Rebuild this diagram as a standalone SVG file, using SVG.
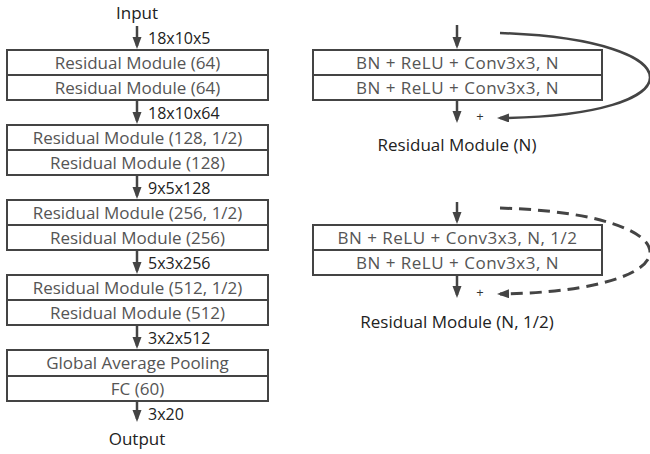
<svg xmlns="http://www.w3.org/2000/svg" width="650" height="454" viewBox="0 0 650 454">
<style>
  .box { fill: #fff; stroke: #444; stroke-width: 2; }
  .sep { stroke: #444; stroke-width: 2; }
  .bt { font-family: "Open Sans", "Liberation Sans", sans-serif; font-size: 17px; fill: #555; text-anchor: middle; }
  .bn { letter-spacing: 0.5px; }
  .lb { font-family: "Open Sans", "Liberation Sans", sans-serif; font-size: 16px; fill: #222; }
  .ttl { font-family: "Open Sans", "Liberation Sans", sans-serif; font-size: 17px; fill: #222; text-anchor: middle; }
  .plus { font-family: "Open Sans", "Liberation Sans", sans-serif; font-size: 13px; fill: #333; text-anchor: middle; }
  .ar { fill: none; stroke: #444; stroke-width: 2.5; marker-end: url(#ah); }
  .cv { fill: none; stroke: #444; stroke-width: 2.5; marker-end: url(#ah); }
  .dash { stroke-dasharray: 12 7; stroke-width: 3; }
</style>
<defs>
  <marker id="ah" markerUnits="userSpaceOnUse" markerWidth="13" markerHeight="10" refX="9" refY="4.5" orient="auto">
    <path d="M0,0 L12,4.5 L0,9 z" fill="#444"/>
  </marker>
</defs>

<g id="input"><text class="ttl" x="137" y="19">Input</text></g>

<g id="stage1">
  <rect class="box" x="7" y="50" width="261" height="50"/>
  <line class="sep" x1="7" y1="75" x2="268" y2="75"/>
  <text class="bt" x="137.5" y="69">Residual Module (64)</text>
  <text class="bt" x="137.5" y="94">Residual Module (64)</text>
</g>
<g id="stage2">
  <rect class="box" x="7" y="125" width="261" height="50"/>
  <line class="sep" x1="7" y1="150" x2="268" y2="150"/>
  <text class="bt" x="137.5" y="144">Residual Module (128, 1/2)</text>
  <text class="bt" x="137.5" y="169">Residual Module (128)</text>
</g>
<g id="stage3">
  <rect class="box" x="7" y="200" width="261" height="50"/>
  <line class="sep" x1="7" y1="225" x2="268" y2="225"/>
  <text class="bt" x="137.5" y="219">Residual Module (256, 1/2)</text>
  <text class="bt" x="137.5" y="244">Residual Module (256)</text>
</g>
<g id="stage4">
  <rect class="box" x="7" y="275" width="261" height="50"/>
  <line class="sep" x1="7" y1="300" x2="268" y2="300"/>
  <text class="bt" x="137.5" y="294">Residual Module (512, 1/2)</text>
  <text class="bt" x="137.5" y="319">Residual Module (512)</text>
</g>
<g id="head">
  <rect class="box" x="7" y="350" width="261" height="51"/>
  <line class="sep" x1="7" y1="376" x2="268" y2="376"/>
  <text class="bt" x="137.5" y="369">Global Average Pooling</text>
  <text class="bt" x="137.5" y="395">FC (60)</text>
</g>
<g id="output"><text class="ttl" x="137" y="445">Output</text></g>

<g id="resblock">
  <rect class="box" x="313" y="50" width="289" height="50"/>
  <line class="sep" x1="313" y1="75" x2="602" y2="75"/>
  <text class="bt bn" x="457.5" y="69">BN + ReLU + Conv3x3, N</text>
  <text class="bt bn" x="457.5" y="94">BN + ReLU + Conv3x3, N</text>
  <text class="plus" x="480" y="121">+</text>
  <text class="ttl" x="457" y="151">Residual Module (N)</text>
</g>
<g id="resblock-down">
  <rect class="box" x="313" y="225" width="289" height="50"/>
  <line class="sep" x1="313" y1="250" x2="602" y2="250"/>
  <text class="bt bn" x="457.5" y="244">BN + ReLU + Conv3x3, N, 1/2</text>
  <text class="bt bn" x="457.5" y="269">BN + ReLU + Conv3x3, N</text>
  <text class="plus" x="480" y="297">+</text>
  <text class="ttl" x="457" y="328">Residual Module (N, 1/2)</text>
</g>

<g id="labels">
  <text class="lb" x="148" y="44">18x10x5</text>
  <text class="lb" x="148" y="119">18x10x64</text>
  <text class="lb" x="148" y="194">9x5x128</text>
  <text class="lb" x="148" y="269">5x3x256</text>
  <text class="lb" x="148" y="344">3x2x512</text>
  <text class="lb" x="148" y="420">3x20</text>
</g>

<g id="connectors">
  <line class="ar" x1="137" y1="26" x2="137" y2="46"/>
  <line class="ar" x1="137" y1="101" x2="137" y2="121"/>
  <line class="ar" x1="137" y1="176" x2="137" y2="196"/>
  <line class="ar" x1="137" y1="251" x2="137" y2="271"/>
  <line class="ar" x1="137" y1="326" x2="137" y2="346"/>
  <line class="ar" x1="137" y1="402" x2="137" y2="419"/>
  <line class="ar" x1="457" y1="25" x2="457" y2="46"/>
  <line class="ar" x1="457" y1="101" x2="457" y2="120"/>
  <path class="cv" d="M500,33 C700,40 700,116 500,118"/>
  <line class="ar" x1="457" y1="202" x2="457" y2="221"/>
  <line class="ar" x1="457" y1="276" x2="457" y2="295"/>
  <path class="cv dash" d="M500,208 C700,214 700,291 500,294"/>
</g>
</svg>
